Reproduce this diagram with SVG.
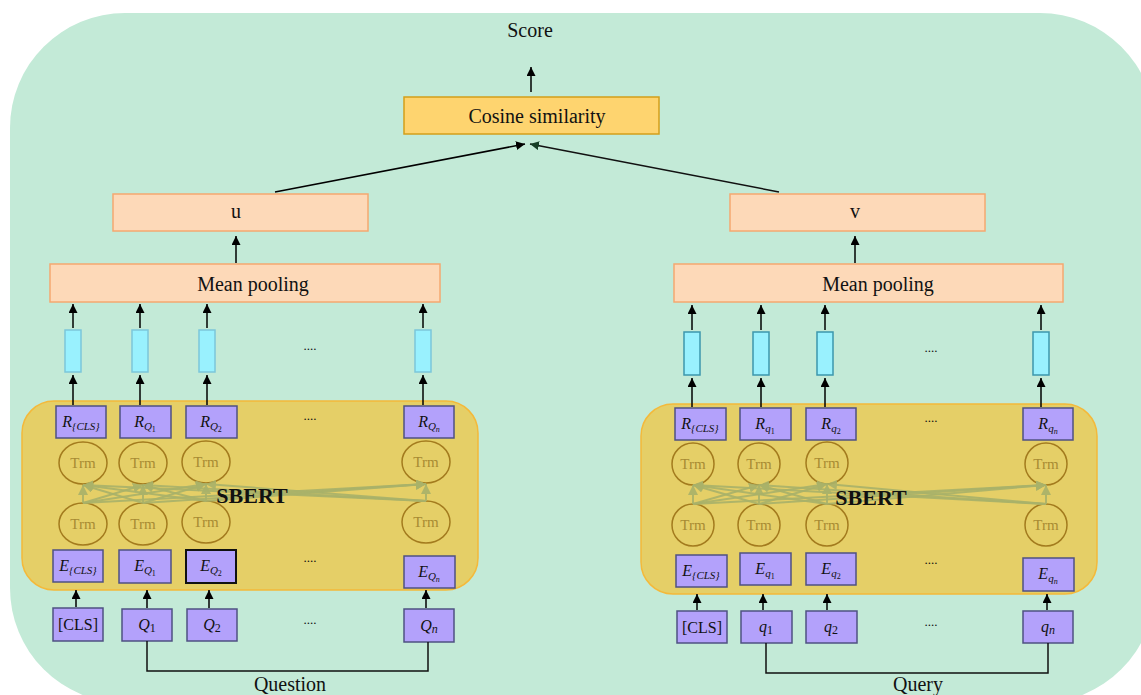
<svg xmlns="http://www.w3.org/2000/svg" width="1141" height="695" viewBox="0 0 1141 695">
  <defs>
    <marker id="ah" markerUnits="userSpaceOnUse" markerWidth="10" markerHeight="10" refX="9" refY="4.5" orient="auto">
      <path d="M0,0 L9,4.5 L0,9 z" fill="#000"/>
    </marker>
    <marker id="ahg" markerUnits="userSpaceOnUse" markerWidth="10" markerHeight="10" refX="9" refY="4.5" orient="auto">
      <path d="M0,0 L9,4.5 L0,9 z" fill="#163f26"/>
    </marker>
    <marker id="aho" markerUnits="userSpaceOnUse" markerWidth="12" markerHeight="12" refX="10" refY="5" orient="auto">
      <path d="M0,0 L10,5 L0,10 z" fill="#a9b26a"/>
    </marker>
    <style>
      text { font-family: "Liberation Serif", "Times New Roman", serif; fill: #111; }
      .lbl { font-size: 20px; text-anchor: middle; }
      .math { font-size: 16px; font-style: italic; text-anchor: middle; }
      .sub { font-size: 11px; }
      .ss { font-size: 8px; font-style: normal; }
      .peach { fill: #fdd9b8; stroke: #f5a870; stroke-width: 1.5; }
      .cos { fill: #fed46f; stroke: #d49f1a; stroke-width: 1.5; }
      .bar { fill: #99f1fe; stroke: #7cc6da; stroke-width: 1.5; }
      .barR { fill: #99f1fe; stroke: #3d97ad; stroke-width: 1.5; }
      .sbert { fill: #e5cf67; stroke: #f4b93a; stroke-width: 1.5; }
      .tok { fill: #b3a1fb; stroke: #4f5282; stroke-width: 1.5; }
      .tokd { fill: #b3a1fb; stroke: #111; stroke-width: 2; }
      .trm { fill: none; stroke: #a37b1e; stroke-width: 1.5; }
      .trmt { font-size: 15px; fill: #a88b33; text-anchor: middle; }
      .arr { stroke: #000; stroke-width: 1.5; fill: none; marker-end: url(#ah); }
      .att { stroke: #a9b26a; stroke-width: 2; fill: none; opacity: 0.9; marker-end: url(#aho); }
      .dots { font-size: 13px; text-anchor: middle; }
      .sb { font-size: 22px; font-weight: bold; text-anchor: middle; }
    </style>
  </defs>

  <!-- background panel -->
  <rect x="10" y="13" width="1145" height="690" rx="115" fill="#c3ead7"/>

  <!-- output head -->
  <g id="score"><text class="lbl" x="530" y="37">Score</text></g>
  <g id="cosine">
    <rect class="cos" x="404" y="97" width="255" height="37"/>
    <text class="lbl" x="537" y="123">Cosine similarity</text>
  </g>
  <g id="u">
    <rect class="peach" x="113" y="194" width="255" height="37"/>
    <text class="lbl" x="236" y="218">u</text>
  </g>
  <g id="v">
    <rect class="peach" x="730" y="194" width="255" height="37"/>
    <text class="lbl" x="855" y="218">v</text>
  </g>
  <g id="pool-left">
    <rect class="peach" x="50" y="264" width="390" height="38"/>
    <text class="lbl" x="253" y="291">Mean pooling</text>
  </g>
  <g id="pool-right">
    <rect class="peach" x="674" y="264" width="389" height="38"/>
    <text class="lbl" x="878" y="291">Mean pooling</text>
  </g>

  <!-- pooled token vectors -->
  <g id="vec-left">
    <rect class="bar" x="65" y="330" width="16" height="42"/>
    <rect class="bar" x="132" y="330" width="16" height="42"/>
    <rect class="bar" x="199" y="330" width="16" height="42"/>
    <rect class="bar" x="415" y="330" width="16" height="42"/>
    <text class="dots" x="310" y="350">....</text>
  </g>
  <g id="vec-right">
    <rect class="barR" x="684" y="332" width="16" height="43"/>
    <rect class="barR" x="753" y="332" width="16" height="43"/>
    <rect class="barR" x="817" y="332" width="16" height="43"/>
    <rect class="barR" x="1033" y="332" width="16" height="43"/>
    <text class="dots" x="931" y="352">....</text>
  </g>

  <!-- left encoder -->
  <g id="sbert-left">
    <rect class="sbert" x="22" y="401" width="456" height="189" rx="32"/>
    <rect class="tok" x="56" y="406" width="50" height="32"/>
    <text class="math" x="81" y="427">R<tspan class="sub" dy="3">{CLS}</tspan></text>
    <rect class="tok" x="120" y="406" width="51" height="32"/>
    <text class="math" x="145" y="427">R<tspan class="sub" dy="3">Q</tspan><tspan class="ss" dy="2">1</tspan></text>
    <rect class="tok" x="186" y="406" width="51" height="32"/>
    <text class="math" x="211" y="427">R<tspan class="sub" dy="3">Q</tspan><tspan class="ss" dy="2">2</tspan></text>
    <rect class="tok" x="404" y="406" width="50" height="32"/>
    <text class="math" x="429" y="427">R<tspan class="sub" dy="3">Q</tspan><tspan class="ss" dy="2" style="font-style:italic">n</tspan></text>
    <text class="dots" x="310" y="420">....</text>

    <ellipse class="trm" cx="83" cy="463" rx="24" ry="21"/>
    <ellipse class="trm" cx="143" cy="463" rx="24" ry="21"/>
    <ellipse class="trm" cx="206" cy="462" rx="24" ry="21"/>
    <ellipse class="trm" cx="426" cy="462" rx="24" ry="21"/>
    <text class="trmt" x="83" y="468">Trm</text>
    <text class="trmt" x="143" y="468">Trm</text>
    <text class="trmt" x="206" y="467">Trm</text>
    <text class="trmt" x="426" y="467">Trm</text>

    <ellipse class="trm" cx="83" cy="524" rx="24" ry="21"/>
    <ellipse class="trm" cx="143" cy="524" rx="24" ry="21"/>
    <ellipse class="trm" cx="206" cy="522" rx="24" ry="21"/>
    <ellipse class="trm" cx="426" cy="522" rx="24" ry="21"/>
    <text class="trmt" x="83" y="529">Trm</text>
    <text class="trmt" x="143" y="529">Trm</text>
    <text class="trmt" x="206" y="527">Trm</text>
    <text class="trmt" x="426" y="527">Trm</text>

    <!-- self-attention links -->
    <g>
      <line class="att" x1="83" y1="503" x2="83" y2="485"/>
      <line class="att" x1="83" y1="503" x2="143" y2="485"/>
      <line class="att" x1="83" y1="503" x2="206" y2="484"/>
      <line class="att" x1="83" y1="503" x2="426" y2="484"/>
      <line class="att" x1="143" y1="503" x2="83" y2="485"/>
      <line class="att" x1="143" y1="503" x2="143" y2="485"/>
      <line class="att" x1="143" y1="503" x2="206" y2="484"/>
      <line class="att" x1="143" y1="503" x2="426" y2="484"/>
      <line class="att" x1="206" y1="501" x2="83" y2="485"/>
      <line class="att" x1="206" y1="501" x2="143" y2="485"/>
      <line class="att" x1="206" y1="501" x2="206" y2="484"/>
      <line class="att" x1="206" y1="501" x2="426" y2="484"/>
      <line class="att" x1="426" y1="501" x2="83" y2="485"/>
      <line class="att" x1="426" y1="501" x2="143" y2="485"/>
      <line class="att" x1="426" y1="501" x2="206" y2="484"/>
      <line class="att" x1="426" y1="501" x2="426" y2="484"/>
    </g>
    <text class="sb" x="252" y="503">SBERT</text>

    <rect class="tok" x="53" y="550" width="50" height="32"/>
    <text class="math" x="78" y="571">E<tspan class="sub" dy="3">{CLS}</tspan></text>
    <rect class="tok" x="119" y="550" width="52" height="33"/>
    <text class="math" x="145" y="571">E<tspan class="sub" dy="3">Q</tspan><tspan class="ss" dy="2">1</tspan></text>
    <rect class="tokd" x="186" y="550" width="50" height="33"/>
    <text class="math" x="211" y="571">E<tspan class="sub" dy="3">Q</tspan><tspan class="ss" dy="2">2</tspan></text>
    <rect class="tok" x="404" y="556" width="51" height="32"/>
    <text class="math" x="429" y="577">E<tspan class="sub" dy="3">Q</tspan><tspan class="ss" dy="2" style="font-style:italic">n</tspan></text>
    <text class="dots" x="310" y="562">....</text>
  </g>

  <!-- right encoder -->
  <g id="sbert-right">
    <rect class="sbert" x="641" y="404" width="456" height="190" rx="32"/>
    <rect class="tok" x="675" y="408" width="51" height="32"/>
    <text class="math" x="700" y="429">R<tspan class="sub" dy="3">{CLS}</tspan></text>
    <rect class="tok" x="740" y="408" width="51" height="32"/>
    <text class="math" x="765" y="429">R<tspan class="sub" dy="3">q</tspan><tspan class="ss" dy="2">1</tspan></text>
    <rect class="tok" x="806" y="408" width="50" height="32"/>
    <text class="math" x="831" y="429">R<tspan class="sub" dy="3">q</tspan><tspan class="ss" dy="2">2</tspan></text>
    <rect class="tok" x="1023" y="408" width="50" height="32"/>
    <text class="math" x="1048" y="429">R<tspan class="sub" dy="3">q</tspan><tspan class="ss" dy="2" style="font-style:italic">n</tspan></text>
    <text class="dots" x="931" y="422">....</text>

    <circle class="trm" cx="693" cy="464" r="21"/>
    <circle class="trm" cx="759" cy="464" r="21"/>
    <circle class="trm" cx="827" cy="463" r="21"/>
    <circle class="trm" cx="1046" cy="464" r="21"/>
    <text class="trmt" x="693" y="469">Trm</text>
    <text class="trmt" x="759" y="469">Trm</text>
    <text class="trmt" x="827" y="468">Trm</text>
    <text class="trmt" x="1046" y="469">Trm</text>

    <circle class="trm" cx="693" cy="525" r="21"/>
    <circle class="trm" cx="759" cy="525" r="21"/>
    <circle class="trm" cx="827" cy="525" r="21"/>
    <circle class="trm" cx="1046" cy="525" r="21"/>
    <text class="trmt" x="693" y="530">Trm</text>
    <text class="trmt" x="759" y="530">Trm</text>
    <text class="trmt" x="827" y="530">Trm</text>
    <text class="trmt" x="1046" y="530">Trm</text>

    <g>
      <line class="att" x1="693" y1="504" x2="693" y2="485"/>
      <line class="att" x1="693" y1="504" x2="759" y2="485"/>
      <line class="att" x1="693" y1="504" x2="827" y2="484"/>
      <line class="att" x1="693" y1="504" x2="1046" y2="485"/>
      <line class="att" x1="759" y1="504" x2="693" y2="485"/>
      <line class="att" x1="759" y1="504" x2="759" y2="485"/>
      <line class="att" x1="759" y1="504" x2="827" y2="484"/>
      <line class="att" x1="759" y1="504" x2="1046" y2="485"/>
      <line class="att" x1="827" y1="504" x2="693" y2="485"/>
      <line class="att" x1="827" y1="504" x2="759" y2="485"/>
      <line class="att" x1="827" y1="504" x2="827" y2="484"/>
      <line class="att" x1="827" y1="504" x2="1046" y2="485"/>
      <line class="att" x1="1046" y1="504" x2="693" y2="485"/>
      <line class="att" x1="1046" y1="504" x2="759" y2="485"/>
      <line class="att" x1="1046" y1="504" x2="827" y2="484"/>
      <line class="att" x1="1046" y1="504" x2="1046" y2="485"/>
    </g>
    <text class="sb" x="871" y="505">SBERT</text>

    <rect class="tok" x="676" y="555" width="51" height="32"/>
    <text class="math" x="701" y="576">E<tspan class="sub" dy="3">{CLS}</tspan></text>
    <rect class="tok" x="740" y="553" width="51" height="32"/>
    <text class="math" x="765" y="574">E<tspan class="sub" dy="3">q</tspan><tspan class="ss" dy="2">1</tspan></text>
    <rect class="tok" x="806" y="553" width="50" height="32"/>
    <text class="math" x="831" y="574">E<tspan class="sub" dy="3">q</tspan><tspan class="ss" dy="2">2</tspan></text>
    <rect class="tok" x="1023" y="558" width="51" height="33"/>
    <text class="math" x="1048" y="579">E<tspan class="sub" dy="3">q</tspan><tspan class="ss" dy="2" style="font-style:italic">n</tspan></text>
    <text class="dots" x="931" y="564">....</text>
  </g>

  <!-- input tokens -->
  <g id="input-left">
    <rect class="tok" x="53" y="608" width="50" height="33"/>
    <text class="lbl" x="78" y="630" style="font-size:16px">[CLS]</text>
    <rect class="tok" x="122" y="609" width="50" height="32"/>
    <text class="math" x="147" y="630">Q<tspan dy="2" style="font-style:normal;font-size:12px">1</tspan></text>
    <rect class="tok" x="187" y="609" width="50" height="32"/>
    <text class="math" x="212" y="630">Q<tspan dy="2" style="font-style:normal;font-size:12px">2</tspan></text>
    <rect class="tok" x="404" y="609" width="50" height="33"/>
    <text class="math" x="429" y="631">Q<tspan dy="2" style="font-size:12px">n</tspan></text>
    <text class="dots" x="310" y="624">....</text>
  </g>
  <g id="input-right">
    <rect class="tok" x="677" y="611" width="50" height="32"/>
    <text class="lbl" x="702" y="633" style="font-size:16px">[CLS]</text>
    <rect class="tok" x="741" y="611" width="51" height="32"/>
    <text class="math" x="766" y="632">q<tspan dy="2" style="font-style:normal;font-size:12px">1</tspan></text>
    <rect class="tok" x="806" y="611" width="51" height="32"/>
    <text class="math" x="831" y="632">q<tspan dy="2" style="font-style:normal;font-size:12px">2</tspan></text>
    <rect class="tok" x="1023" y="611" width="50" height="32"/>
    <text class="math" x="1048" y="632">q<tspan dy="2" style="font-size:12px">n</tspan></text>
    <text class="dots" x="931" y="626">....</text>
  </g>

  <g id="question"><text class="lbl" x="290" y="691">Question</text></g>
  <g id="query"><text class="lbl" x="918" y="691">Query</text></g>

  <!-- connectors -->
  <g id="connectors">
    <line class="arr" x1="531" y1="92" x2="531" y2="67"/>
    <line class="arr" x1="275" y1="192" x2="525" y2="144"/>
    <line stroke="#111" stroke-width="1.5" x1="779" y1="192" x2="530" y2="144" marker-end="url(#ahg)"/>
    <line class="arr" x1="236" y1="263" x2="236" y2="236"/>
    <line class="arr" x1="855" y1="263" x2="855" y2="236"/>

    <line class="arr" x1="73" y1="328" x2="73" y2="304"/>
    <line class="arr" x1="140" y1="328" x2="140" y2="304"/>
    <line class="arr" x1="207" y1="328" x2="207" y2="304"/>
    <line class="arr" x1="423" y1="328" x2="423" y2="304"/>
    <line class="arr" x1="73" y1="405" x2="73" y2="375"/>
    <line class="arr" x1="140" y1="405" x2="140" y2="375"/>
    <line class="arr" x1="207" y1="405" x2="207" y2="375"/>
    <line class="arr" x1="423" y1="405" x2="423" y2="375"/>

    <line class="arr" x1="692" y1="330" x2="692" y2="305"/>
    <line class="arr" x1="761" y1="330" x2="761" y2="305"/>
    <line class="arr" x1="825" y1="330" x2="825" y2="305"/>
    <line class="arr" x1="1041" y1="330" x2="1041" y2="305"/>
    <line class="arr" x1="692" y1="407" x2="692" y2="378"/>
    <line class="arr" x1="761" y1="407" x2="761" y2="378"/>
    <line class="arr" x1="825" y1="407" x2="825" y2="378"/>
    <line class="arr" x1="1041" y1="407" x2="1041" y2="378"/>

    <line class="arr" x1="76" y1="607" x2="76" y2="590"/>
    <line class="arr" x1="147" y1="608" x2="147" y2="590"/>
    <line class="arr" x1="209" y1="608" x2="209" y2="590"/>
    <line class="arr" x1="426" y1="608" x2="426" y2="590"/>
    <line class="arr" x1="697" y1="610" x2="697" y2="594"/>
    <line class="arr" x1="763" y1="610" x2="763" y2="594"/>
    <line class="arr" x1="827" y1="610" x2="827" y2="594"/>
    <line class="arr" x1="1047" y1="610" x2="1047" y2="594"/>

    <path d="M147,641 V671 H428 V642" stroke="#111" stroke-width="1.5" fill="none"/>
    <path d="M766,643 V673 H1048 V643" stroke="#111" stroke-width="1.5" fill="none"/>
  </g>
</svg>
